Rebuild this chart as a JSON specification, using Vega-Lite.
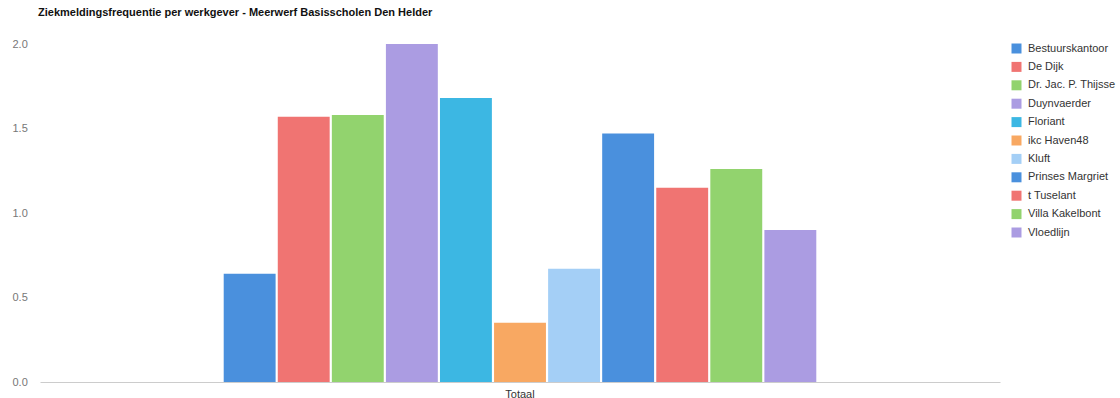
{
  "$schema": "https://vega.github.io/schema/vega-lite/v6.json",
  "width": 960,
  "height": 338,
  "autosize": {"type": "none"},
  "padding": {"left": 40, "top": 44, "right": 120, "bottom": 16},
  "background": "white",
  "title": {
    "text": "Ziekmeldingsfrequentie per werkgever - Meerwerf Basisscholen Den Helder",
    "anchor": "start",
    "frame": "group",
    "offset": 20,
    "dx": -2,
    "font": "Liberation Sans",
    "fontSize": 11,
    "fontWeight": "bold",
    "color": "#111"
  },
  "data": {
    "values": [
      {"groep": "Totaal", "werkgever": "Bestuurskantoor", "waarde": 0.64},
      {"groep": "Totaal", "werkgever": "De Dijk", "waarde": 1.57},
      {"groep": "Totaal", "werkgever": "Dr. Jac. P. Thijsse", "waarde": 1.58},
      {"groep": "Totaal", "werkgever": "Duynvaerder", "waarde": 2.0},
      {"groep": "Totaal", "werkgever": "Floriant", "waarde": 1.68},
      {"groep": "Totaal", "werkgever": "ikc Haven48", "waarde": 0.35},
      {"groep": "Totaal", "werkgever": "Kluft", "waarde": 0.67},
      {"groep": "Totaal", "werkgever": "Prinses Margriet", "waarde": 1.47},
      {"groep": "Totaal", "werkgever": "t Tuselant", "waarde": 1.15},
      {"groep": "Totaal", "werkgever": "Villa Kakelbont", "waarde": 1.26},
      {"groep": "Totaal", "werkgever": "Vloedlijn", "waarde": 0.9}
    ]
  },
  "mark": {"type": "bar"},
  "encoding": {
    "x": {
      "field": "groep",
      "type": "nominal",
      "title": null,
      "scale": {"paddingOuter": 0.31, "paddingInner": 0},
      "axis": {
        "labelAngle": 0,
        "labelFont": "Liberation Sans",
        "labelFontSize": 11,
        "labelColor": "#333",
        "ticks": false,
        "labelPadding": 6,
        "domainColor": "#ccc",
        "domainWidth": 1
      }
    },
    "xOffset": {
      "field": "werkgever",
      "type": "nominal",
      "sort": null,
      "scale": {"paddingInner": 0.04, "paddingOuter": 0}
    },
    "y": {
      "field": "waarde",
      "type": "quantitative",
      "title": null,
      "scale": {"domain": [0, 2], "nice": false},
      "axis": {
        "values": [0, 0.5, 1, 1.5, 2],
        "format": ".1f",
        "grid": false,
        "domain": false,
        "ticks": false,
        "labelFont": "Liberation Sans",
        "labelFontSize": 11,
        "labelColor": "#777",
        "labelPadding": 28,
        "labelAlign": "left",
        "labelBaseline": "middle"
      }
    },
    "color": {
      "field": "werkgever",
      "type": "nominal",
      "sort": null,
      "title": null,
      "scale": {
        "domain": ["Bestuurskantoor", "De Dijk", "Dr. Jac. P. Thijsse", "Duynvaerder", "Floriant", "ikc Haven48", "Kluft", "Prinses Margriet", "t Tuselant", "Villa Kakelbont", "Vloedlijn"],
        "range": ["#4a90dd", "#f07472", "#92d36e", "#ab9ce2", "#3cb7e3", "#f8a862", "#a4cff6", "#4a90dd", "#f07472", "#92d36e", "#ab9ce2"]
      },
      "legend": {
        "orient": "none",
        "legendX": 971,
        "legendY": -1,
        "symbolType": "square",
        "symbolSize": 100,
        "symbolStrokeWidth": 0,
        "labelFont": "Liberation Sans",
        "labelFontSize": 11,
        "labelColor": "#333",
        "rowPadding": 6.4,
        "labelOffset": 6
      }
    }
  },
  "config": {"view": {"stroke": null}}
}
